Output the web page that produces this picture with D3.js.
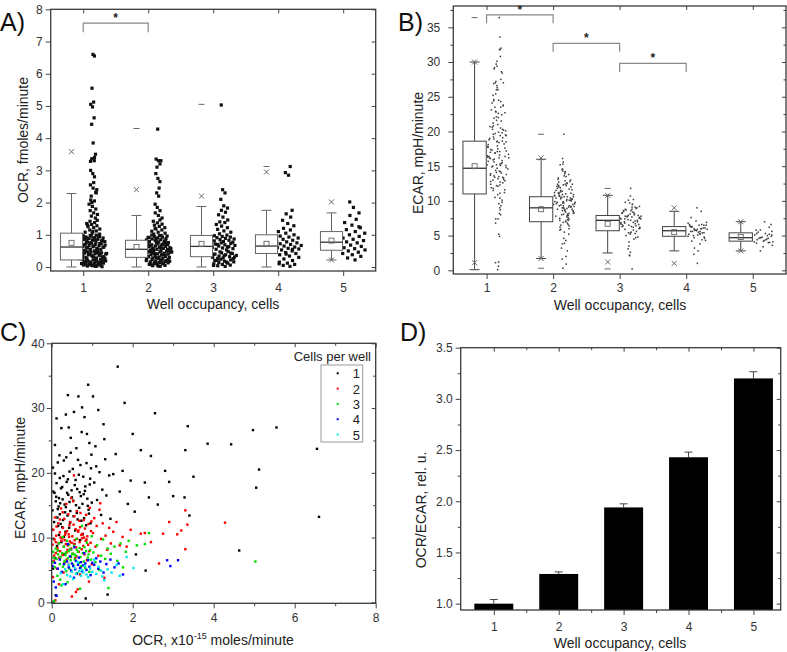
<!DOCTYPE html>
<html>
<head>
<meta charset="utf-8">
<script src="https://cdnjs.cloudflare.com/ajax/libs/d3/7.8.5/d3.min.js"></script>
<style>
  body { margin: 0; background: #fff; }
  svg { font-family: "Liberation Sans", Arial, sans-serif; }
  .tick line { stroke: #444; }
  .tick text { fill: #333; font-size: 12px; }
</style>
</head>
<body>
<div id="chart"></div>
<script>
// wells: [OCR (fmoles/min), ECAR (mpH/min)] per cell count
var g1 = [
  [0.02,14.2],[0.03,20.8],[0.05,9.8],[0.04,17.1],[0.06,12.4],[0.08,24.3],[0.1,15.6],[0.01,11.2],[0.12,18.4],[0.09,6.8],
  [0.14,13.1],[0.15,21.6],[0.11,16.3],[0.18,10.4],[0.2,19.2],[0.17,14.8],[0.22,12.1],[0.24,26.9],[0.13,8.7],[0.07,16.9],
  [0.19,22.7],[0.21,15.3],[0.16,11.8],[0.23,17.6],[0.05,0.1],[0.1,1.1],[0.03,5.2],[0.2,13.6],[0.12,28.4],[0.08,19.9],
  [0.18,16.1],[0.24,9.3],[0.15,14.4],
  [0.26,17.8],[0.28,12.7],[0.3,21.9],[0.32,15.1],[0.34,10.9],[0.35,29],[0.37,18.6],[0.39,13.4],[0.4,32],[0.41,16.6],
  [0.43,11.5],[0.44,20.2],[0.46,14.1],[0.47,23.1],[0.48,8.2],[0.27,15.9],[0.29,19.5],[0.31,7.4],[0.33,13.9],[0.36,22.4],
  [0.38,16.9],[0.42,27],[0.45,12.3],[0.49,17.3],[0.3,10.1],[0.35,14.7],[0.4,19],[0.44,15.5],[0.47,25.4],[0.26,11.6],
  [0.5,16.2],[0.52,20.6],[0.54,13.3],[0.55,29.4],[0.57,18.1],[0.58,11.1],[0.6,15],[0.61,23.8],[0.63,17.5],[0.64,12.8],
  [0.66,31.8],[0.67,19.7],[0.68,14.6],[0.7,9.6],[0.71,21.2],[0.72,16.4],[0.74,26.3],[0.53,15.7],[0.56,9],[0.59,18.9],
  [0.62,13.8],[0.65,22],[0.69,17],[0.73,12.6],[0.75,30.1],
  [0.76,15.2],[0.78,19.4],[0.8,13],[0.81,28.6],[0.83,17.9],[0.85,11.9],[0.86,21.5],[0.88,16],[0.9,33.6],[0.91,14.3],
  [0.93,24.6],[0.94,18.2],[0.96,12.2],[0.97,20.7],[0.99,15.4],[0.77,10.5],[0.82,17.2],[0.87,26],[0.92,13.7],[0.95,19.1],
  [0.98,22.8],[0.79,16.7],[0.84,0.6],[0.89,14.9],
  [1.02,31.8],[1.05,18.5],[1.08,24.1],[1.12,15.8],[1.15,29.7],[1.18,20.1],[1.22,13.5],[1.25,17.4],[1.28,27.5],[1.32,22.1],
  [1.35,16.5],[1.38,1.2],[1.42,19.6],[1.45,12.9],[1.1,21],[1.3,25.2],
  [1.52,19.8],[1.58,22.9],[1.63,36.4],[1.68,17.1],[1.75,20.3],[1.8,30.8],[1.88,15.2],[1.95,18.8],
  [2.05,14],[2.2,23.5],[2.3,18.5],[2.45,22.6],[2.55,29.2],[2.8,20.3],[2.0,26],[2.4,16.2],[2.62,15.1],[2.08,7.4],
  [2.32,4.9],[2.9,18.6],[3.0,16.4],
  [3.3,23.5],[3.36,27.2],[3.5,19.4],[3.85,24.5],[4.43,24.4],[4.63,8],[4.97,26.6],[5.05,17.7],[5.12,20.5],[5.55,27],
  [6.55,23.7],[6.6,13.2],[3.28,16.2],[3.4,13.4]
];
var g2 = [
  [0.02,8.9],[0.04,11.2],[0.05,6.4],[0.07,9.7],[0.08,13.1],[0.1,7.6],[0.11,10.3],[0.13,5.2],[0.14,8.4],[0.16,12.2],
  [0.17,9.1],[0.19,6.9],[0.2,10.8],[0.21,7.9],[0.23,14.5],[0.24,9.5],[0.03,3.9],[0.09,0.3],[0.12,11.7],[0.15,8],
  [0.18,2.8],[0.22,10],[0.06,7.2],[0.2,12.8],[0.1,9.3],
  [0.26,9.9],[0.27,7.3],[0.28,11.5],[0.3,8.6],[0.31,12.9],[0.32,6.2],[0.33,10.4],[0.35,9],[0.36,15.2],[0.37,7.7],
  [0.38,11],[0.4,8.8],[0.41,13.6],[0.42,5.8],[0.43,10.1],[0.45,9.4],[0.46,12.4],[0.47,7],[0.48,16.1],[0.49,9.2],
  [0.29,4.6],[0.34,10.7],[0.39,8.1],[0.44,11.9],[0.5,0.9],[0.27,13.9],[0.32,9.6],[0.37,6.6],[0.42,10.5],[0.47,8.3],
  [0.51,10.2],[0.52,7.5],[0.54,12],[0.55,9],[0.56,13.3],[0.58,6.8],[0.59,11.3],[0.6,8.5],[0.62,14.1],[0.63,9.8],
  [0.64,2],[0.65,10.9],[0.67,7.8],[0.68,12.6],[0.69,9.3],[0.7,11.6],[0.72,5.5],[0.73,10.4],[0.74,8.2],[0.53,15.6],
  [0.57,9.6],[0.61,7.1],[0.66,11.1],[0.71,13.8],[0.75,9.9],[0.6,1.6],[0.7,4.3],[0.55,19.6],
  [0.76,10.6],[0.78,8.7],[0.79,12.7],[0.81,7.4],[0.82,11.4],[0.84,9.5],[0.85,13.5],[0.87,6.5],[0.88,10.2],[0.9,8.9],
  [0.91,12.1],[0.93,7.9],[0.94,14.6],[0.96,9.2],[0.97,11],[0.99,5.9],[0.8,10],[0.86,9.7],[0.92,3.2],[0.98,12.5],
  [1.02,10.7],[1.05,13],[1.08,8.6],[1.11,11.8],[1.15,7.2],[1.18,14.3],[1.22,9.8],[1.26,12.2],[1.3,3.8],[1.33,10.3],
  [1.37,8.1],[1.42,11.5],[1.46,9.1],[1.2,15.3],
  [1.52,10.9],[1.6,12.4],[1.68,8.8],[1.75,10.1],[1.85,8.6],[1.95,11.2],
  [2.2,10.6],[2.3,10.7],[2.65,6],[2.75,10.6],[2.9,12.4],[2.45,9.3],
  [3.1,10.5],[3.3,8.2],[3.3,14.2],[3.35,12],[3.2,11.1],[4.28,12.3]
];
var g3 = [
  [0.02,6.2],[0.04,7.8],[0.06,0.2],[0.08,5.4],[0.1,8.3],[0.12,6.7],[0.14,4.1],[0.16,7.4],[0.18,9.1],[0.2,5.9],
  [0.22,7],[0.24,2.6],[0.05,6.9],[0.15,8],[0.21,3.5],
  [0.26,7.6],[0.28,5.5],[0.3,8.6],[0.32,6.4],[0.34,7.3],[0.36,4.8],[0.38,9.5],[0.4,6.8],[0.42,7.9],[0.44,5.2],
  [0.46,8.2],[0.48,7.1],[0.27,10.1],[0.31,6],[0.35,7.7],[0.39,3.1],[0.43,8.9],[0.47,6.5],
  [0.51,7.5],[0.53,5.8],[0.55,8.7],[0.57,6.6],[0.59,7.2],[0.61,9.8],[0.63,4.5],[0.65,7.8],[0.67,6.1],[0.69,8.4],
  [0.71,7],[0.73,5.6],[0.75,11.8],[0.56,7.4],[0.62,8.1],[0.7,2.1],
  [0.77,7.6],[0.79,6.3],[0.81,8.5],[0.83,5.3],[0.85,7.9],[0.87,9.2],[0.89,6.9],[0.91,7.4],[0.93,4.7],[0.95,8.1],
  [0.97,6.6],[0.99,10.2],
  [1.03,7.7],[1.08,6.2],[1.12,8.8],[1.17,5],[1.22,7.2],[1.27,9.7],[1.32,6.7],[1.38,8.3],[1.4,2.2],[1.46,7.5],
  [1.55,8.6],[1.62,6.4],[1.7,9.1],[1.76,5.4],[1.83,7.8],[1.9,9.5],
  [2.1,8.8],[2.3,9],[2.4,10.7],[5.03,6.3]
];
var g4 = [
  [0.02,5.6],[0.05,3.2],[0.08,6.1],[0.12,1],[0.15,5.2],[0.2,6.6],[0.25,4.7],[0.3,5.9],[0.34,2.8],[0.38,6.3],
  [0.42,5.4],[0.45,7.1],[0.48,4.9],[0.5,6],[0.53,5.6],[0.56,8.5],[0.58,5.1],[0.6,6.4],[0.62,4.4],[0.65,5.8],
  [0.67,6.9],[0.7,5.3],[0.72,6.2],[0.75,4.8],[0.78,5.7],[0.8,7.6],[0.83,6],[0.86,5],[0.9,6.5],[0.93,5.5],
  [0.96,4.2],[1,6.1],[1.05,5.8],[1.1,6.8],[1.15,5.2],[1.2,6.3],[1.28,4.6],[1.35,5.9],[1.45,6.6],[1.55,5.4],
  [1.65,6],[1.76,4.3],[2.85,6.5],[2.93,5.6],[3.12,6.5],[0.4,9],[0.1,2.3],[0.55,3.8]
];
var g5 = [
  [0.22,4.5],[0.28,2.8],[0.33,5.1],[0.38,4.2],[0.42,5.8],[0.46,4],[0.5,4.7],[0.53,3.6],[0.57,5.3],[0.6,4.4],
  [0.64,6.2],[0.68,4.8],[0.72,4.1],[0.75,5],[0.78,4.6],[0.82,5.6],[0.86,4.3],[0.9,3.9],[0.95,5.2],[1,4.7],
  [1.05,6.6],[1.1,4.4],[1.16,5.5],[1.22,4.9],[1.3,3.4],[1.38,5.1],[1.48,4.6],[1.6,5.8],[1.68,4.1],[1.85,7],
  [2.02,5.3],[1.25,4]
];
var groups = [g1, g2, g3, g4, g5];
var cats = [1, 2, 3, 4, 5];
var groupColors = ['#000000', '#ff0000', '#00e000', '#0000ff', '#00e8f0'];

// box statistics, OCR (panel A)
var ocrWhiskLo = [0, 0, 0, 0, 0.22];
var ocrQ1 = [0.22, 0.3, 0.32, 0.42, 0.52];
var ocrMedian = [0.62, 0.55, 0.64, 0.65, 0.77];
var ocrQ3 = [1.05, 0.83, 0.98, 1.0, 1.1];
var ocrWhiskHi = [2.28, 1.6, 1.88, 1.76, 1.68];
var ocrMean = [0.75, 0.62, 0.72, 0.72, 0.82];
var ocrCross = [[3.58], [2.4], [2.2], [2.95], [2.02, 0.22]];
var ocrDash = [[], [4.3], [5.05], [3.12], []];

// box statistics, ECAR (panel B)
var ecarWhiskLo = [0.1, 1.7, 2.5, 2.8, 2.8];
var ecarQ1 = [11, 7, 5.7, 4.9, 4.2];
var ecarMedian = [14.7, 9, 7.2, 5.7, 4.7];
var ecarQ3 = [18.6, 10.6, 7.9, 6.3, 5.4];
var ecarWhiskHi = [30, 16, 10.8, 8.5, 7];
var ecarMean = [15, 8.8, 6.7, 5.5, 4.8];
var ecarCross = [[30, 1.1], [16.2, 1.7], [10.8, 1.2], [9, 1], [7, 2.8]];
var ecarDash = [[36.4, 0.1], [19.6, 0.3], [11.8, 0.2], [], []];

// significance brackets [from, to, level]
var ocrSig = [[1, 2, 7.57]];
var ecarSig = [[1, 2, 36.8], [2, 3, 32.7], [3, 4, 29.8]];

// panel D
var ratio = [1.0, 1.29, 1.94, 2.43, 3.2];
var ratioErr = [0.04, 0.02, 0.035, 0.05, 0.065];

var ocrTicks = [0, 1, 2, 3, 4, 5, 6, 7, 8];
var ecarTicks = [0, 5, 10, 15, 20, 25, 30, 35];
var ecarMinor = [2.5, 7.5, 12.5, 17.5, 22.5, 27.5, 32.5, 37.5];
var scatXTicks = [0, 2, 4, 6, 8];
var scatXMinor = [1, 3, 5, 7];
var scatYTicks = [0, 10, 20, 30, 40];
var scatYMinor = [5, 15, 25, 35];
var ratioTicks = [1.0, 1.5, 2.0, 2.5, 3.0, 3.5];
var ratioMinor = [1.25, 1.75, 2.25, 2.75, 3.25];
var catMinor = [1.5, 2.5, 3.5, 4.5];

var W = 787, H = 652;
var svg = d3.select('#chart').append('svg').attr('width', W).attr('height', H);
var ink = '#3a3a3a', markGray = '#666';

function frame(g, x, y, o) {
  var xr = x.range(), yr = y.range();
  var bottom = g.append('g').attr('transform', 'translate(0,' + yr[0] + ')');
  bottom.call(d3.axisBottom(x).tickValues(o.xMajor).tickSize(5).tickPadding(o.xPad).tickFormat(o.xFmt || d3.format('d')));
  if (o.xMinor) bottom.append('g').call(d3.axisBottom(x).tickValues(o.xMinor).tickSize(3).tickFormat(''));
  var left = g.append('g').attr('transform', 'translate(' + xr[0] + ',0)');
  left.call(d3.axisLeft(y).tickValues(o.yMajor).tickSize(5).tickPadding(o.yPad).tickFormat(o.yFmt || d3.format('d')));
  if (o.yMinor) left.append('g').call(d3.axisLeft(y).tickValues(o.yMinor).tickSize(3).tickFormat(''));
  var top = g.append('g').attr('transform', 'translate(0,' + yr[1] + ')');
  top.call(d3.axisBottom(x).tickValues(o.xMajor).tickSize(4).tickFormat(''));
  if (o.xMinor) top.append('g').call(d3.axisBottom(x).tickValues(o.xMinor).tickSize(2.5).tickFormat(''));
  var right = g.append('g').attr('transform', 'translate(' + xr[1] + ',0)');
  right.call(d3.axisLeft(y).tickValues(o.yMajor).tickSize(4).tickFormat(''));
  if (o.yMinor) right.append('g').call(d3.axisLeft(y).tickValues(o.yMinor).tickSize(2.5).tickFormat(''));
  g.selectAll('.domain').remove();
  g.append('rect')
    .attr('x', xr[0]).attr('y', yr[1])
    .attr('width', xr[1] - xr[0]).attr('height', yr[0] - yr[1])
    .attr('fill', 'none').attr('stroke', ink).attr('stroke-width', 1.3);
}

function label(text, x, y, size, rot) {
  var t = svg.append('text').attr('text-anchor', 'middle').attr('font-size', size).attr('fill', '#222')
    .attr('transform', 'translate(' + x + ',' + y + ')' + (rot ? ' rotate(-90)' : ''));
  t.text(text);
  return t;
}

function letter(text, x, y) {
  svg.append('text').attr('x', x).attr('y', y).attr('font-size', 25).attr('fill', '#111').text(text);
}

// violin-like spread of a column of values (layout only)
function spread(vals, bw, half) {
  var dens = vals.map(function(v) {
    return d3.sum(vals, function(w) { return Math.exp(-0.5 * Math.pow((v - w) / bw, 2)); });
  });
  var dmax = d3.max(dens);
  return vals.map(function(v, i) {
    var f = ((i + 1) * 0.6180339887) % 1;
    return half * Math.max(0.14, Math.pow(dens[i] / dmax, 0.6)) * (2 * f - 1);
  });
}

function boxPanel(g, x, y, st, opt) {
  var bw = opt.boxW, off = opt.boxOff;
  cats.forEach(function(c, i) {
    var cx = x(c + off), half = (x(c + bw / 2) - x(c - bw / 2)) / 2;
    var col = g.append('g').attr('stroke', opt.boxColor).attr('fill', 'none').attr('stroke-width', 1);
    col.append('line').attr('x1', cx).attr('x2', cx).attr('y1', y(st.lo[i])).attr('y2', y(st.q1[i]));
    col.append('line').attr('x1', cx).attr('x2', cx).attr('y1', y(st.q3[i])).attr('y2', y(st.hi[i]));
    [st.lo[i], st.hi[i]].forEach(function(v) {
      col.append('line').attr('x1', cx - 5).attr('x2', cx + 5).attr('y1', y(v)).attr('y2', y(v));
    });
    col.append('rect').attr('x', cx - half).attr('width', 2 * half)
      .attr('y', y(st.q3[i])).attr('height', y(st.q1[i]) - y(st.q3[i])).attr('fill', '#fff');
    col.append('line').attr('x1', cx - half).attr('x2', cx + half)
      .attr('y1', y(st.med[i])).attr('y2', y(st.med[i])).attr('stroke', '#333').attr('stroke-width', 1.3);
    col.append('rect').attr('x', cx - 2.5).attr('y', y(st.mean[i]) - 2.5).attr('width', 5).attr('height', 5)
      .attr('stroke', markGray).attr('stroke-width', 0.9);
    st.cross[i].forEach(function(v) {
      col.append('path').attr('stroke', markGray)
        .attr('d', 'M' + (cx - 2.5) + ',' + (y(v) - 2.5) + 'l5,5M' + (cx - 2.5) + ',' + (y(v) + 2.5) + 'l5,-5');
    });
    st.dash[i].forEach(function(v) {
      col.append('line').attr('stroke', markGray).attr('x1', cx - 3).attr('x2', cx + 3).attr('y1', y(v)).attr('y2', y(v));
    });
  });
}

function points(g, x, y, acc, opt) {
  groups.forEach(function(grp, i) {
    var vals = grp.map(acc);
    var offs = spread(vals, opt.bw, opt.half);
    var cx = x(cats[i] + opt.off);
    g.append('g').selectAll('rect').data(vals).enter().append('rect')
      .attr('x', function(d, j) { return cx + offs[j] - opt.size / 2; })
      .attr('y', function(d) { return y(d) - opt.size / 2; })
      .attr('width', opt.size).attr('height', opt.size)
      .attr('fill', opt.color);
  });
}

function brackets(g, x, y, sig, drop) {
  sig.forEach(function(s) {
    var yl = y(s[2]);
    g.append('path').attr('fill', 'none').attr('stroke', '#888').attr('stroke-width', 1.2)
      .attr('d', 'M' + x(s[0]) + ',' + (yl + drop) + 'V' + yl + 'H' + x(s[1]) + 'V' + (yl + drop));
    g.append('text').attr('x', (x(s[0]) + x(s[1])) / 2).attr('y', yl - 1).attr('text-anchor', 'middle')
      .attr('font-size', 12).attr('font-weight', 'bold').attr('fill', '#222').text('*');
  });
}

// ---------- A) OCR ----------
var xA = d3.scaleLinear().domain([0.5, 5.5]).range([50.7, 375.7]);
var yA = d3.scaleLinear().domain([-0.124, 8]).range([271, 9.3]);
var gA = svg.append('g');
points(gA, xA, yA, function(p) { return p[0]; }, { bw: 0.2, half: 14, off: 0.15, size: 3.2, color: '#111' });
boxPanel(gA, xA, yA, {
  lo: ocrWhiskLo, q1: ocrQ1, med: ocrMedian, q3: ocrQ3, hi: ocrWhiskHi, mean: ocrMean, cross: ocrCross, dash: ocrDash
}, { boxW: 0.34, boxOff: -0.18, boxColor: '#666' });
brackets(gA, xA, yA, ocrSig, 9);
frame(gA, xA, yA, { xMajor: cats, yMajor: ocrTicks, xPad: 7, yPad: 3 });
letter('A)', 0, 31);
label('OCR, fmoles/minute', 28, 140, 14, true);
label('Well occupancy, cells', 213, 309, 14);

// ---------- B) ECAR ----------
var xB = d3.scaleLinear().domain([0.5, 5.5]).range([453.3, 786]);
var yB = d3.scaleLinear().domain([-0.53, 38.07]).range([274, 6]);
var gB = svg.append('g');
points(gB, xB, yB, function(p) { return p[1]; }, { bw: 1.3, half: 11, off: 0.17, size: 1.5, color: '#3a3a3a' });
boxPanel(gB, xB, yB, {
  lo: ecarWhiskLo, q1: ecarQ1, med: ecarMedian, q3: ecarQ3, hi: ecarWhiskHi, mean: ecarMean, cross: ecarCross, dash: ecarDash
}, { boxW: 0.35, boxOff: -0.18, boxColor: '#444' });
brackets(gB, xB, yB, ecarSig, 8.5);
frame(gB, xB, yB, { xMajor: cats, yMajor: ecarTicks, yMinor: ecarMinor, xPad: 4, yPad: 8 });
letter('B)', 398, 31);
label('ECAR, mpH/minute', 423, 153, 14, true);
label('Well occupancy, cells', 620, 310, 14);

// ---------- C) scatter ----------
var xC = d3.scaleLinear().domain([0, 8]).range([51.7, 375.7]);
var yC = d3.scaleLinear().domain([-0.15, 40]).range([603.3, 343.3]);
var gC = svg.append('g');
groups.forEach(function(grp, i) {
  gC.append('g').selectAll('rect').data(grp).enter().append('rect')
    .attr('x', function(d) { return xC(d[0]) - 1.2; })
    .attr('y', function(d) { return yC(d[1]) - 1.2; })
    .attr('width', 2.4).attr('height', 2.4)
    .attr('fill', groupColors[i]);
});
frame(gC, xC, yC, { xMajor: scatXTicks, xMinor: scatXMinor, yMajor: scatYTicks, yMinor: scatYMinor, xPad: 5, yPad: 2 });
// legend
var legX = 321, legY = 365, legRow = 15.3;
gC.append('text').attr('x', 371).attr('y', 361).attr('text-anchor', 'end').attr('font-size', 13).attr('fill', '#222').text('Cells per well');
gC.append('rect').attr('x', legX).attr('y', legY).attr('width', 41.7).attr('height', 77)
  .attr('fill', '#fff').attr('stroke', '#999').attr('stroke-width', 1);
cats.forEach(function(c, i) {
  var yy = legY + 8.3 + i * legRow;
  gC.append('rect').attr('x', 336.7).attr('y', yy - 1).attr('width', 2).attr('height', 2).attr('fill', groupColors[i]);
  gC.append('text').attr('x', 360).attr('y', yy + 5).attr('text-anchor', 'end').attr('font-size', 13).attr('fill', '#222').text(c);
});
letter('C)', 0, 341);
label('ECAR, mpH/minute', 25, 478, 14, true);
var xlC = label('', 213, 645, 14);
xlC.append('tspan').text('OCR, x10');
xlC.append('tspan').attr('dy', -6).attr('font-size', 9).text('-15');
xlC.append('tspan').attr('dy', 6).text(' moles/minute');

// ---------- D) ratio bars ----------
var xD = d3.scaleLinear().domain([0.49, 5.42]).range([460.7, 780.7]);
var yD = d3.scaleLinear().domain([0.938, 3.5]).range([610, 347.7]);
var gD = svg.append('g');
var barW = xD(1.6) - xD(1);
gD.selectAll('.err').data(ratio).enter().append('path')
  .attr('fill', 'none').attr('stroke', '#444').attr('stroke-width', 1)
  .attr('d', function(d, i) {
    var cx = xD(cats[i]), yt = yD(d + ratioErr[i]);
    return 'M' + cx + ',' + yD(d) + 'V' + yt + 'M' + (cx - 4) + ',' + yt + 'H' + (cx + 4);
  });
gD.selectAll('.bar').data(ratio).enter().append('rect')
  .attr('x', function(d, i) { return xD(cats[i]) - barW / 2; })
  .attr('y', function(d) { return yD(d); })
  .attr('width', barW)
  .attr('height', function(d) { return yD.range()[0] - yD(d); })
  .attr('fill', '#000');
frame(gD, xD, yD, { xMajor: cats, xMinor: catMinor, yMajor: ratioTicks, yMinor: ratioMinor, xPad: 7, yPad: 3, yFmt: d3.format('.1f') });
letter('D)', 400, 341);
label('OCR/ECAR, rel. u.', 426, 510, 14, true);
label('Well occupancy, cells', 620, 648, 14);
</script>
</body>
</html>
